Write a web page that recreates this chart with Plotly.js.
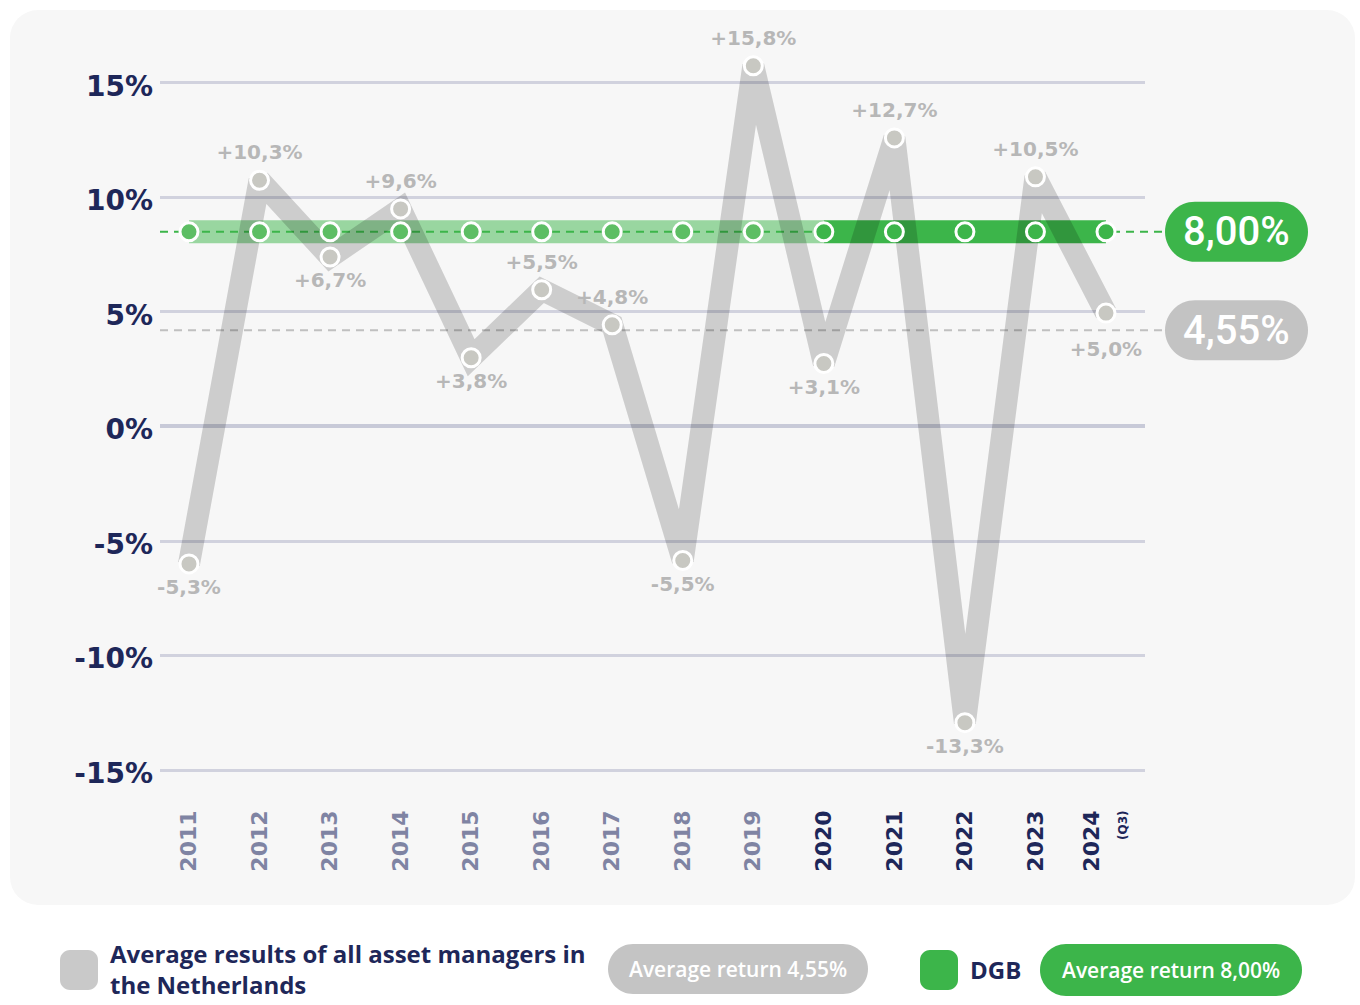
<!DOCTYPE html>
<html>
<head>
<meta charset="utf-8">
<script src="https://cdn.plot.ly/plotly-3.0.1.min.js"></script>
<style>
  html, body { margin: 0; padding: 0; background: #ffffff; }
  #card { position: absolute; left: 10px; top: 10px; width: 1345px; height: 895px; border-radius: 28px; background: #f7f7f7; }
  #chart { position: absolute; left: 0; top: 0; width: 1360px; height: 1005px; }
</style>
</head>
<body>
<div id="card"></div>
<div id="chart"></div>
<script>
// ---- data ----
const years = ['2011','2012','2013','2014','2015','2016','2017','2018','2019','2020','2021','2022','2023','2024'];
const marketReturns = [-6.0, 10.75, 7.4, 9.5, 3.0, 5.97, 4.44, -5.85, 15.75, 2.75, 12.6, -12.93, 10.9, 4.95];
const marketLabels = ['-5,3%','+10,3%','+6,7%','+9,6%','+3,8%','+5,5%','+4,8%','-5,5%','+15,8%','+3,1%','+12,7%','-13,3%','+10,5%','+5,0%'];
const dgbReturns = [8.5, 8.5, 8.5, 8.5, 8.5, 8.5, 8.5, 8.5, 8.5, 8.5, 8.5, 8.5, 8.5, 8.5];
const dgbHistoricYears = ['2011','2012','2013','2014','2015','2016','2017','2018','2019','2020'];
const dgbRecentYears = ['2020','2021','2022','2023','2024'];
const marketAverage = 4.2;
const marketAverageLabel = '4,55%';
const dgbAverage = 8.5;
const dgbAverageLabel = '8,00%';
const yTickValues = [-15, -10, -5, 0, 5, 10, 15];
const yTickLabels = ['-15%', '-10%', '-5%', '0%', '5%', '10%', '15%'];
const recentYears = ['2020','2021','2022','2023','2024'];
const legendMarketText = 'Average results of all asset managers in<br>the Netherlands';
const legendMarketPill = 'Average return 4,55%';
const legendDgbText = 'DGB';
const legendDgbPill = 'Average return 8,00%';

// ---- styling helpers ----
const NAVY = '#1e2759';
const GREEN = '#3cb54a';
const LABELGRAY = '#b7b7b7';
const PL = 160, PR = 1145, PT = 25, PB = 795;
const pxX = px => (px - PL) / (PR - PL);
const pxY = py => (PB - py) / (PB - PT);

function roundRect(w, h, r) {
  const k = 0.5523 * r;
  const x1 = -w / 2, x2 = w / 2, y1 = -h / 2, y2 = h / 2;
  const f = v => v.toFixed(2);
  return 'M' + f(x1 + r) + ',' + f(y1) +
    'L' + f(x2 - r) + ',' + f(y1) +
    'C' + f(x2 - r + k) + ',' + f(y1) + ' ' + f(x2) + ',' + f(y1 + r - k) + ' ' + f(x2) + ',' + f(y1 + r) +
    'L' + f(x2) + ',' + f(y2 - r) +
    'C' + f(x2) + ',' + f(y2 - r + k) + ' ' + f(x2 - r + k) + ',' + f(y2) + ' ' + f(x2 - r) + ',' + f(y2) +
    'L' + f(x1 + r) + ',' + f(y2) +
    'C' + f(x1 + r - k) + ',' + f(y2) + ' ' + f(x1) + ',' + f(y2 - r + k) + ' ' + f(x1) + ',' + f(y2 - r) +
    'L' + f(x1) + ',' + f(y1 + r) +
    'C' + f(x1) + ',' + f(y1 + r - k) + ' ' + f(x1 + r - k) + ',' + f(y1) + ' ' + f(x1 + r) + ',' + f(y1) + 'Z';
}
function boxShape(xref, x, yref, y, w, h, r, color) {
  return { type: 'path', xref: xref, yref: yref, xsizemode: 'pixel', ysizemode: 'pixel',
    xanchor: x, yanchor: y, path: roundRect(w, h, r), fillcolor: color, line: { width: 0 }, layer: 'above' };
}

const tickText = years.map(y => {
  const col = recentYears.includes(y) ? NAVY : '#7f84a3';
  if (y === '2024') return '<span style="color:' + col + '">2024</span><br><span style="color:' + col + ';font-size:12px">(Q3)</span>';
  return '<span style="color:' + col + '">' + y + '</span>';
});

const labelPositions = marketReturns.map((v, i) => {
  if (i === 0) return 'bottom center';
  const prev = marketReturns[i - 1];
  const next = i < marketReturns.length - 1 ? marketReturns[i + 1] : -Infinity;
  return (v >= prev && v >= next) || (i === 6) ? 'top center' : 'bottom center';
});
// invisible marker sizes only steer the label offset from each point
const labelOffsetSizes = years.map((y, i) => i === years.length - 1 ? 43 : (labelPositions[i] === 'top center' ? 24 : 23));

const dgbMarkerColors = years.map(y => recentYears.includes(y) ? GREEN : '#5dbe64');

const traces = [
  { x: dgbHistoricYears, y: dgbReturns.slice(0, dgbHistoricYears.length), mode: 'lines',
    line: { color: 'rgba(60,181,74,0.5)', width: 23 }, hoverinfo: 'skip', showlegend: false },
  { x: dgbRecentYears, y: dgbReturns.slice(years.length - dgbRecentYears.length), mode: 'lines',
    line: { color: GREEN, width: 23 }, hoverinfo: 'skip', showlegend: false },
  { x: years, y: marketReturns, mode: 'lines',
    line: { color: 'rgba(0,0,0,0.17)', width: 22 }, hoverinfo: 'skip', showlegend: false },
  { x: years, y: marketReturns, mode: 'markers',
    marker: { size: 18, color: '#c8c8c2', line: { color: '#ffffff', width: 3 } }, hoverinfo: 'skip', showlegend: false },
  { x: years, y: dgbReturns, mode: 'markers',
    marker: { size: 18, color: dgbMarkerColors, line: { color: '#ffffff', width: 3 } }, hoverinfo: 'skip', showlegend: false },
  { x: years, y: marketReturns, mode: 'markers+text', text: marketLabels, textposition: labelPositions,
    marker: { size: labelOffsetSizes, opacity: 0 },
    textfont: { family: 'DejaVu Sans', size: 20, weight: 700, color: LABELGRAY },
    hoverinfo: 'skip', showlegend: false, cliponaxis: false }
];

const shapes = [
  { type: 'line', xref: 'paper', yref: 'y', x0: 0, x1: pxX(1165), y0: dgbAverage, y1: dgbAverage,
    line: { color: GREEN, width: 2, dash: '8px,6px' }, layer: 'below' },
  { type: 'line', xref: 'paper', yref: 'y', x0: 0, x1: pxX(1165), y0: marketAverage, y1: marketAverage,
    line: { color: '#c0c0c0', width: 2, dash: '8px,6px' }, layer: 'below' },
  boxShape('paper', pxX(1236.5), 'y', dgbAverage, 143, 60, 30, GREEN),
  boxShape('paper', pxX(1236.5), 'y', marketAverage, 143, 60, 30, '#c3c3c3'),
  boxShape('paper', pxX(79), 'paper', pxY(970), 38, 40, 10, '#c9c9c9'),
  boxShape('paper', pxX(738), 'paper', pxY(969), 260, 50, 25, '#c4c4c4'),
  boxShape('paper', pxX(939), 'paper', pxY(970), 38, 40, 10, GREEN),
  boxShape('paper', pxX(1171), 'paper', pxY(970), 262, 52, 26, GREEN)
];

const annotations = [
  { xref: 'paper', yref: 'y', x: pxX(1236.5), y: dgbAverage, xanchor: 'center', yanchor: 'middle',
    text: dgbAverageLabel, showarrow: false,
    font: { family: 'Roboto', size: 40, weight: 500, color: '#ffffff' } },
  { xref: 'paper', yref: 'y', x: pxX(1236.5), y: marketAverage, xanchor: 'center', yanchor: 'middle',
    text: marketAverageLabel, showarrow: false,
    font: { family: 'Roboto', size: 40, weight: 500, color: '#ffffff' } },
  { xref: 'paper', yref: 'paper', x: pxX(108), y: pxY(969.5), xanchor: 'left', yanchor: 'middle', align: 'left',
    text: legendMarketText, showarrow: false, font: { family: 'Open Sans', size: 24, weight: 700, color: NAVY } },
  { xref: 'paper', yref: 'paper', x: pxX(738), y: pxY(969), xanchor: 'center', yanchor: 'middle',
    text: legendMarketPill, showarrow: false,
    font: { family: 'Open Sans', size: 21, weight: 600, color: '#ffffff' } },
  { xref: 'paper', yref: 'paper', x: pxX(968), y: pxY(969), xanchor: 'left', yanchor: 'middle',
    text: legendDgbText, showarrow: false,
    font: { family: 'Open Sans', size: 24, weight: 700, color: NAVY } },
  { xref: 'paper', yref: 'paper', x: pxX(1171), y: pxY(970), xanchor: 'center', yanchor: 'middle',
    text: legendDgbPill, showarrow: false,
    font: { family: 'Open Sans', size: 21, weight: 600, color: '#ffffff' } }
];

const layout = {
  width: 1360, height: 1005,
  margin: { l: PL, r: 1360 - PR, t: PT, b: 1005 - PB },
  paper_bgcolor: 'rgba(0,0,0,0)', plot_bgcolor: 'rgba(0,0,0,0)',
  showlegend: false, hovermode: false,
  xaxis: {
    type: 'category', categoryorder: 'array', categoryarray: years,
    range: [-0.411, 13.553], showgrid: false, zeroline: false, showline: false,
    tickmode: 'array', tickvals: years, ticktext: tickText, tickangle: -90,
    ticks: '', ticklabelstandoff: 10,
    tickfont: { family: 'DejaVu Sans', size: 22, weight: 700, color: '#7f84a3' }
  },
  yaxis: {
    range: [-16.09, 17.53], tickmode: 'array', tickvals: yTickValues, ticktext: yTickLabels,
    showgrid: true, gridcolor: '#d1d2de', gridwidth: 3,
    zeroline: true, zerolinecolor: '#c8cad8', zerolinewidth: 4,
    showline: false, ticks: '', ticklabelstandoff: 6, ticklabelshift: 3,
    tickfont: { family: 'DejaVu Sans', size: 28, weight: 700, color: NAVY }
  },
  shapes: shapes,
  annotations: annotations
};

Plotly.newPlot('chart', traces, layout, { staticPlot: true, displayModeBar: false });
</script>
</body>
</html>
